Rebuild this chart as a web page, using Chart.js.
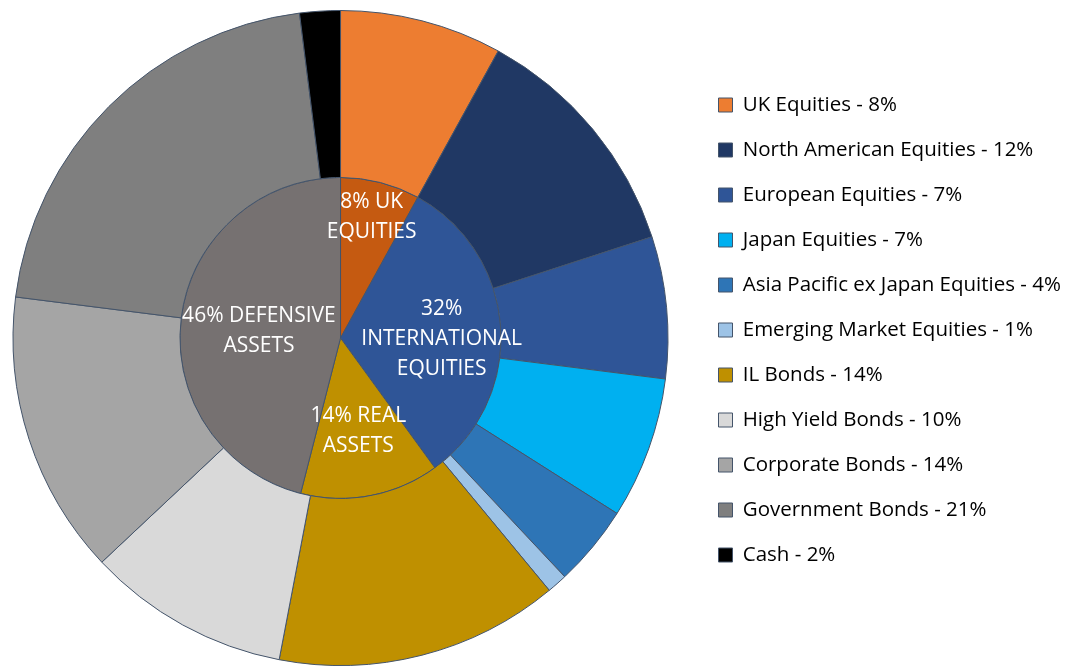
<!DOCTYPE html>
<html>
<head>
<meta charset="utf-8">
<script src="https://cdn.jsdelivr.net/npm/chart.js@4"></script>
<style>
  html, body { margin: 0; padding: 0; background: #fff; }
  #wrap { width: 1068px; height: 670px; }
</style>
</head>
<body>
<div id="wrap"><canvas id="chart"></canvas></div>
<script>
// outer ring - asset classes
const assetLabels = ['UK Equities - 8%', 'North American Equities - 12%', 'European Equities - 7%',
  'Japan Equities - 7%', 'Asia Pacific ex Japan Equities - 4%', 'Emerging Market Equities - 1%',
  'IL Bonds - 14%', 'High Yield Bonds - 10%', 'Corporate Bonds - 14%', 'Government Bonds - 21%', 'Cash - 2%'];
const assetValues = [8, 12, 7, 7, 4, 1, 14, 10, 14, 21, 2];
const assetColors = ['#ED7D31', '#203864', '#2F5597', '#00B0F0', '#2E75B6', '#9DC3E6',
  '#BF9000', '#D9D9D9', '#A5A5A5', '#7F7F7F', '#000000'];

// inner circle - groups
const groupLabels = [['8% UK', 'EQUITIES'], ['32%', 'INTERNATIONAL', 'EQUITIES'], ['14% REAL', 'ASSETS'], ['46% DEFENSIVE', 'ASSETS']];
const groupValues = [8, 32, 14, 46];
const groupColors = ['#C55A11', '#2F5597', '#BF9000', '#767171'];

const FONT = "'Open Sans', sans-serif";

// draws the text on the inner circle slices
const innerText = {
  id: 'innerText',
  afterDatasetsDraw(chart) {
    const ctx = chart.ctx;
    const meta = chart.getDatasetMeta(1);
    const radFrac = [0.78, 0.63, 0.59, 0.51];
    const shift = [0, 4, 0, -2.4];
    ctx.save();
    ctx.fillStyle = '#ffffff';
    ctx.font = '21px ' + FONT;
    ctx.textAlign = 'center';
    ctx.textBaseline = 'middle';
    meta.data.forEach((arc, i) => {
      const p = arc.getProps(['x', 'y', 'startAngle', 'endAngle', 'outerRadius']);
      const a = (p.startAngle + p.endAngle) / 2 + shift[i] * Math.PI / 180;
      const r = p.outerRadius * radFrac[i];
      const cx = p.x + Math.cos(a) * r;
      const cy = p.y + Math.sin(a) * r;
      const lines = groupLabels[i];
      const lh = 30;
      lines.forEach((t, j) => {
        ctx.fillText(t, cx, cy + (j - (lines.length - 1) / 2) * lh);
      });
    });
    ctx.restore();
  }
};

// nudge the legend to where it sits in the original
const legendNudge = {
  id: 'legendNudge',
  afterLayout(chart) {
    const lg = chart.legend;
    const dx = 694 - lg.left;
    const dy = -8;
    lg.left += dx; lg.right += dx;
    lg.top += dy; lg.bottom += dy;
  }
};

new Chart(document.getElementById('chart'), {
  type: 'pie',
  data: {
    labels: assetLabels,
    datasets: [
      {
        data: assetValues,
        backgroundColor: assetColors,
        borderColor: '#44546A',
        borderWidth: 1,
        weight: 1.04
      },
      {
        data: groupValues,
        backgroundColor: groupColors,
        borderColor: '#44546A',
        borderWidth: 1,
        weight: 1
      }
    ]
  },
  options: {
    responsive: true,
    maintainAspectRatio: false,
    animation: false,
    layout: { padding: { left: 4, top: 10, bottom: 4, right: 14 } },
    plugins: {
      tooltip: { enabled: false },
      legend: {
        position: 'right',
        align: 'center',
        labels: {
          color: '#262626',
          font: { family: FONT, size: 20.5 },
          boxWidth: 14,
          boxHeight: 14,
          padding: 24.5,
          generateLabels(chart) {
            return assetLabels.map((l, i) => ({
              text: l,
              fillStyle: assetColors[i],
              strokeStyle: '#44546A',
              lineWidth: 1,
              index: i
            }));
          }
        }
      }
    }
  },
  plugins: [innerText, legendNudge]
});
</script>
</body>
</html>
